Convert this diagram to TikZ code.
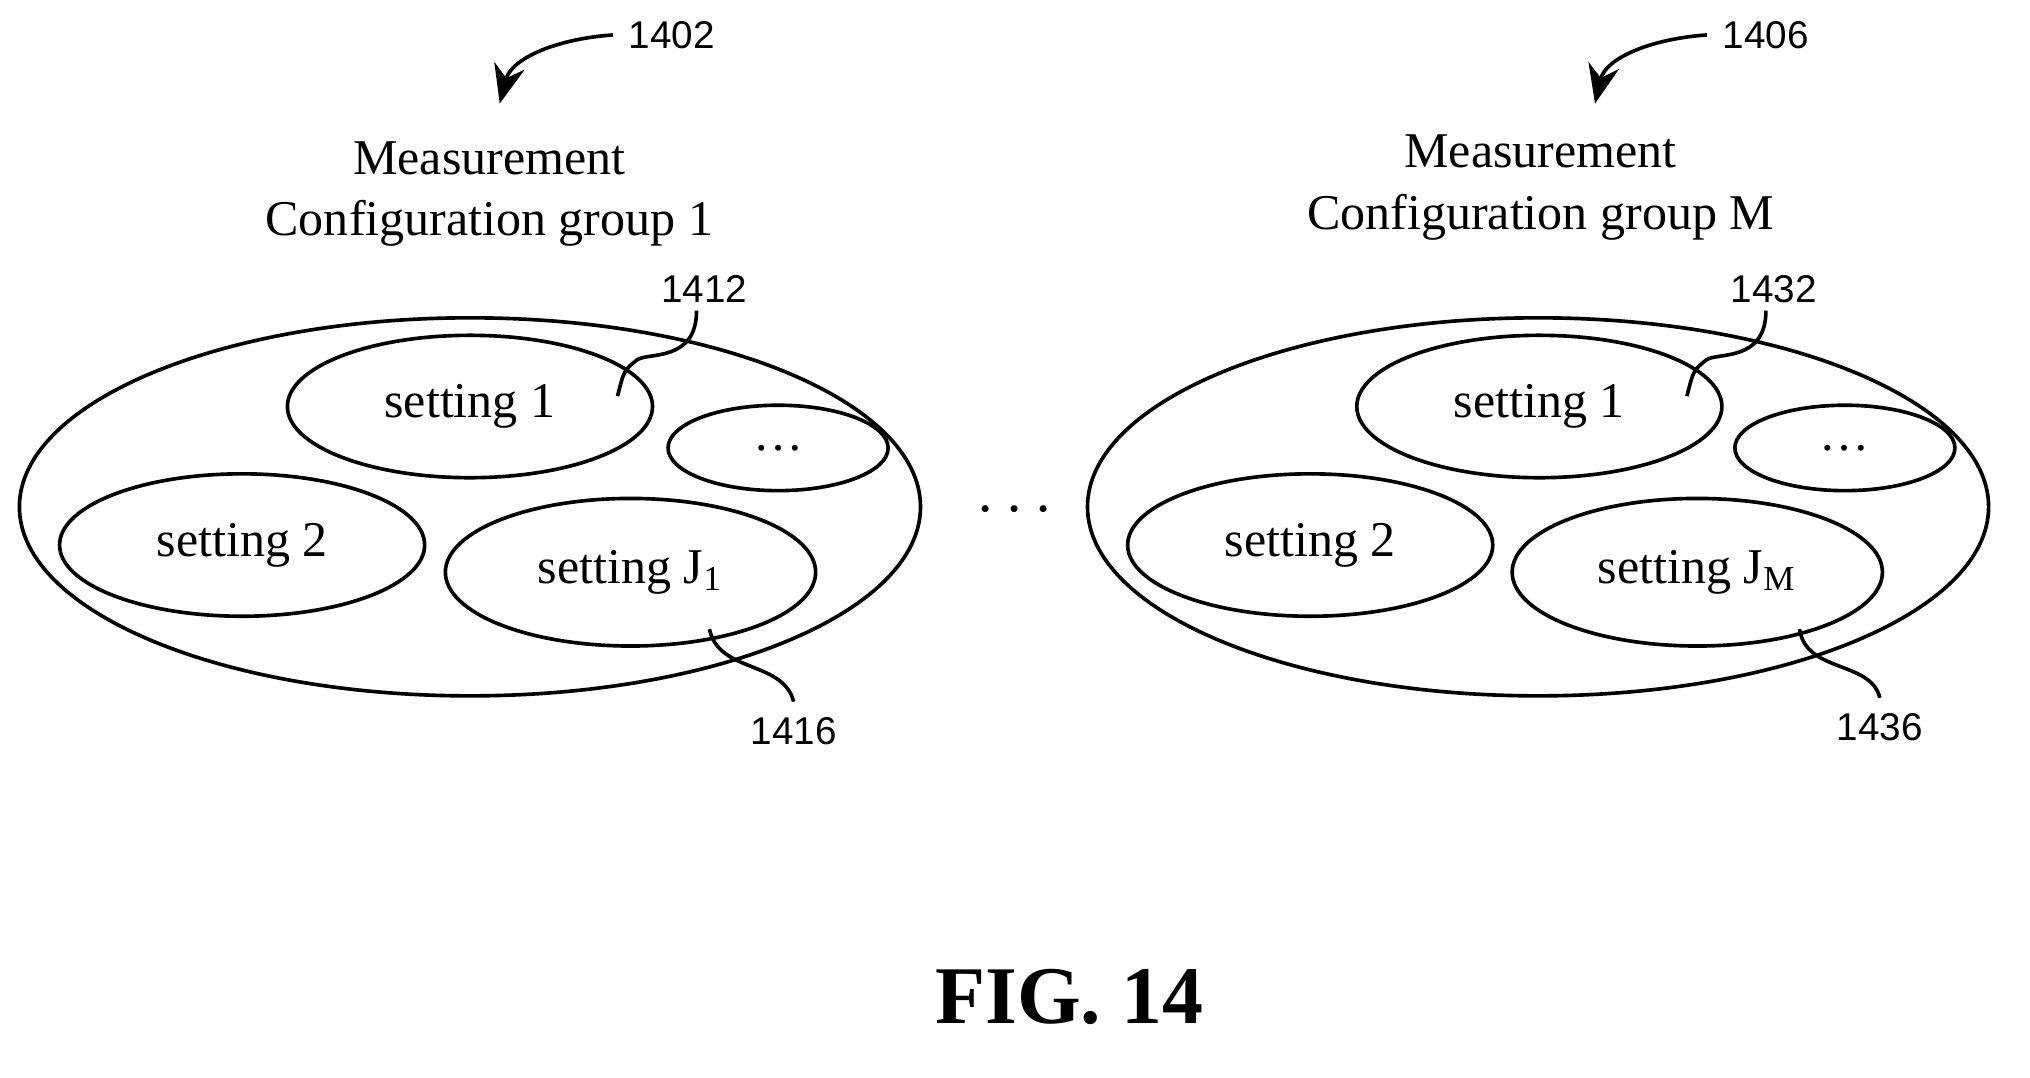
\documentclass[tikz,border=0pt]{standalone}
\usepackage{fontspec}
\setmainfont{Liberation Serif}
\newfontfamily\refnum{Liberation Sans}
\usetikzlibrary{shapes.geometric, arrows.meta, positioning, calc}
\tikzstyle{group} = [ellipse, draw, thick, minimum width=6.96cm, minimum height=2.92cm]
\tikzstyle{setting} = [ellipse, draw, thick, minimum width=2.82cm, minimum height=1.1cm, font=\fontsize{11}{13}\selectfont]
\tikzstyle{dotset} = [ellipse, draw, thick, minimum width=1.7cm, minimum height=0.66cm, font=\fontsize{11}{13}\selectfont]
\tikzstyle{title} = [align=center, font=\fontsize{11}{13.5}\selectfont]
\tikzstyle{refno} = [font=\refnum\fontsize{8.5}{10}\selectfont]
\tikzstyle{lead} = [thick]
\tikzstyle{callout} = [thick, -{Stealth[length=3mm, width=2.4mm]}]

\begin{document}
\begin{tikzpicture}
	\useasboundingbox (0,0) rectangle (15.68,-8.32);

	% Group 1
	\node (grp1) [group] at (3.63,-3.915) {};
	\node (g1s1) [setting] at (3.63,-3.14) {setting 1};
	\node (g1dots) [dotset] at (6.01,-3.46) {\dots};
	\node (g1s2) [setting] at (1.87,-4.21) {setting 2};
	\node (g1sj) [setting, minimum width=2.86cm, minimum height=1.14cm] at (4.87,-4.42) {setting J\textsubscript{1}};
	\node (title1) [title] at (3.78,-1.50) {Measurement\\Configuration group 1};

	% Group M
	\node (grpM) [group] at (11.88,-3.915) {};
	\node (gMs1) [setting] at (11.89,-3.14) {setting 1};
	\node (gMdots) [dotset] at (14.25,-3.46) {\dots};
	\node (gMs2) [setting] at (10.12,-4.21) {setting 2};
	\node (gMsj) [setting, minimum width=2.86cm, minimum height=1.14cm] at (13.11,-4.42) {setting J\textsubscript{M}};
	\node (titleM) [title] at (11.90,-1.45) {Measurement\\Configuration group M};

	\node (between) [font=\fontsize{14}{16}\selectfont] at (7.84,-3.95) {$\cdots$};

	% Reference numerals
	\node (r1402) [refno] at (5.19,-0.27) {1402};
	\node (r1406) [refno] at (13.64,-0.27) {1406};
	\node (r1412) [refno] at (5.44,-2.23) {1412};
	\node (r1432) [refno] at (13.70,-2.23) {1432};
	\node (r1416) [refno] at (6.13,-5.65) {1416};
	\node (r1436) [refno] at (14.52,-5.62) {1436};

	\coordinate (a1402) at (3.86,-0.80);
	\coordinate (a1406) at (12.32,-0.80);
	\coordinate (p1412) at (4.77,-3.06);
	\coordinate (p1432) at (13.03,-3.06);
	\coordinate (p1416) at (5.48,-4.86);
	\coordinate (p1436) at (13.90,-4.86);

	% Callouts and leaders
	\draw[callout] (r1402.west) .. controls (4.30,-0.30) and (3.95,-0.45) .. (a1402);
	\draw[callout] (r1406.west) .. controls (12.75,-0.30) and (12.40,-0.45) .. (a1406);
	\draw[lead] (5.38,-2.40) .. controls (5.38,-2.80) and (5.00,-2.72) .. (4.92,-2.78) .. controls (4.82,-2.86) .. (p1412);
	\draw[lead] (13.64,-2.40) .. controls (13.64,-2.80) and (13.26,-2.72) .. (13.18,-2.78) .. controls (13.08,-2.86) .. (p1432);
	\draw[lead] (r1416.north) .. controls (6.05,-5.10) and (5.55,-5.20) .. (p1416);
	\draw[lead] (r1436.north) .. controls (14.45,-5.10) and (13.95,-5.20) .. (p1436);

	\node (fig) [font=\bfseries\fontsize{18}{20}\selectfont] at (8.26,-7.70) {FIG. 14};
\end{tikzpicture}
\end{document}
